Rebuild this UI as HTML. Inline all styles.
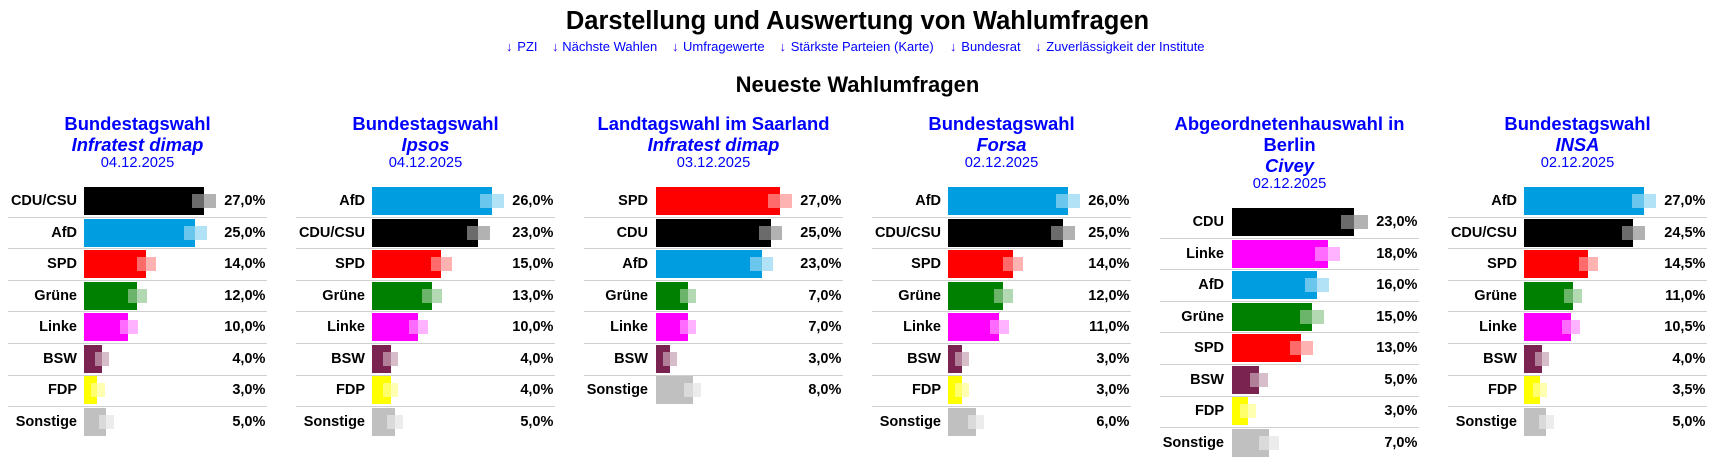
<!DOCTYPE html>
<html><head><meta charset="utf-8">
<style>
*{margin:0;padding:0;box-sizing:border-box}
html,body{width:1719px;height:465px;overflow:hidden;background:#fff}
body{position:relative;font-family:"Liberation Sans",Arial,sans-serif;color:#000}
.h1{position:absolute;left:0;top:5.5px;width:1715px;text-align:center;font-weight:bold;font-size:25.5px;line-height:30px;white-space:nowrap}
.h2{position:absolute;left:0;top:72px;width:1715px;text-align:center;font-weight:bold;font-size:22px;line-height:26px;white-space:nowrap}
.lk{position:absolute;top:38.8px;font-size:13px;line-height:16px;color:#0000ff;white-space:nowrap}
.ar{position:absolute;top:38.8px;font-size:13px;line-height:16px;color:#2a00ff;font-family:"Liberation Sans","DejaVu Sans",sans-serif}
.c{position:absolute;top:0;width:259px;height:465px}
.t{position:absolute;left:0;top:112.8px;width:259px;text-align:center;color:#0000ff;font-weight:bold;font-size:18.4px;line-height:21px;white-space:nowrap}
.t .d{font-weight:normal;font-size:14.7px;line-height:16px}
.r{position:absolute;left:0;width:259px;height:28px}
.l{position:absolute;left:0;top:0;text-align:right;font-weight:bold;font-size:14.5px;line-height:28px;white-space:nowrap}
.A .l{width:69px}
.B .l{width:64px}
.v{position:absolute;right:1.6px;top:0;font-weight:bold;font-size:14.5px;line-height:28px;white-space:nowrap}
.w{position:absolute;top:0;height:28px;width:0}
.A .w{left:76px}
.B .w{left:72px}
.g{position:absolute;top:7px;height:14px;opacity:.3}
.w b{position:absolute;left:0;top:0;height:28px;overflow:hidden;display:block}
.w b i{position:absolute;top:7px;height:14px;background:rgba(255,255,255,.42)}
.s{position:absolute;left:0;width:259px;height:1px;background:#d0d0d0}
</style></head><body>

<div class="h1">Darstellung und Auswertung von Wahlumfragen</div>

<span class="ar" style="left:506px">↓</span><span class="lk" style="left:517.3px">PZI</span>
<span class="ar" style="left:552px">↓</span><span class="lk" style="left:562.3px">Nächste Wahlen</span>
<span class="ar" style="left:672px">↓</span><span class="lk" style="left:683px">Umfragewerte</span>
<span class="ar" style="left:779.5px">↓</span><span class="lk" style="left:790.7px">Stärkste Parteien (Karte)</span>
<span class="ar" style="left:950px">↓</span><span class="lk" style="left:961.3px">Bundesrat</span>
<span class="ar" style="left:1035px">↓</span><span class="lk" style="left:1046.3px">Zuverlässigkeit der Institute</span>

<div class="h2">Neueste Wahlumfragen</div>

<!-- Chart 1 -->
<div class="c A" style="left:8px">
<div class="t">Bundestagswahl<br><i>Infratest dimap</i><div class="d">04.12.2025</div></div>
<div class="r" style="top:187px"><span class="l">CDU/CSU</span><div class="w"><i class="g" style="left:108px;width:24px;background:#000"></i><b style="width:120px;background:#000"><i style="left:108px;width:24px"></i></b></div><span class="v">27,0%</span></div>
<div class="s" style="top:216.6px"></div>
<div class="r" style="top:218.6px"><span class="l">AfD</span><div class="w"><i class="g" style="left:100px;width:23px;background:#009ee0"></i><b style="width:111.1px;background:#009ee0"><i style="left:100px;width:23px"></i></b></div><span class="v">25,0%</span></div>
<div class="s" style="top:248.2px"></div>
<div class="r" style="top:250.1px"><span class="l">SPD</span><div class="w"><i class="g" style="left:53px;width:19px;background:#ff0000"></i><b style="width:62.2px;background:#ff0000"><i style="left:53px;width:19px"></i></b></div><span class="v">14,0%</span></div>
<div class="s" style="top:279.7px"></div>
<div class="r" style="top:281.7px"><span class="l">Grüne</span><div class="w"><i class="g" style="left:44px;width:19px;background:#008000"></i><b style="width:53.3px;background:#008000"><i style="left:44px;width:19px"></i></b></div><span class="v">12,0%</span></div>
<div class="s" style="top:311.3px"></div>
<div class="r" style="top:313.3px"><span class="l">Linke</span><div class="w"><i class="g" style="left:36px;width:18px;background:#ff00ff"></i><b style="width:44.4px;background:#ff00ff"><i style="left:36px;width:18px"></i></b></div><span class="v">10,0%</span></div>
<div class="s" style="top:342.9px"></div>
<div class="r" style="top:344.9px"><span class="l">BSW</span><div class="w"><i class="g" style="left:11px;width:14px;background:#7a2350"></i><b style="width:17.8px;background:#7a2350"><i style="left:11px;width:14px"></i></b></div><span class="v">4,0%</span></div>
<div class="s" style="top:374.5px"></div>
<div class="r" style="top:376.4px"><span class="l">FDP</span><div class="w"><i class="g" style="left:7px;width:14px;background:#ffff00"></i><b style="width:13.3px;background:#ffff00"><i style="left:7px;width:14px"></i></b></div><span class="v">3,0%</span></div>
<div class="s" style="top:406px"></div>
<div class="r" style="top:408px"><span class="l">Sonstige</span><div class="w"><i class="g" style="left:15px;width:15px;background:#c0c0c0"></i><b style="width:22.2px;background:#c0c0c0"><i style="left:15px;width:15px"></i></b></div><span class="v">5,0%</span></div>
</div>

<!-- Chart 2 -->
<div class="c A" style="left:296px">
<div class="t">Bundestagswahl<br><i>Ipsos</i><div class="d">04.12.2025</div></div>
<div class="r" style="top:187px"><span class="l">AfD</span><div class="w"><i class="g" style="left:108px;width:24px;background:#009ee0"></i><b style="width:120px;background:#009ee0"><i style="left:108px;width:24px"></i></b></div><span class="v">26,0%</span></div>
<div class="s" style="top:216.6px"></div>
<div class="r" style="top:218.6px"><span class="l">CDU/CSU</span><div class="w"><i class="g" style="left:95px;width:23px;background:#000"></i><b style="width:106.2px;background:#000"><i style="left:95px;width:23px"></i></b></div><span class="v">23,0%</span></div>
<div class="s" style="top:248.2px"></div>
<div class="r" style="top:250.1px"><span class="l">SPD</span><div class="w"><i class="g" style="left:59px;width:21px;background:#ff0000"></i><b style="width:69.2px;background:#ff0000"><i style="left:59px;width:21px"></i></b></div><span class="v">15,0%</span></div>
<div class="s" style="top:279.7px"></div>
<div class="r" style="top:281.7px"><span class="l">Grüne</span><div class="w"><i class="g" style="left:50px;width:20px;background:#008000"></i><b style="width:60px;background:#008000"><i style="left:50px;width:20px"></i></b></div><span class="v">13,0%</span></div>
<div class="s" style="top:311.3px"></div>
<div class="r" style="top:313.3px"><span class="l">Linke</span><div class="w"><i class="g" style="left:37px;width:19px;background:#ff00ff"></i><b style="width:46.2px;background:#ff00ff"><i style="left:37px;width:19px"></i></b></div><span class="v">10,0%</span></div>
<div class="s" style="top:342.9px"></div>
<div class="r" style="top:344.9px"><span class="l">BSW</span><div class="w"><i class="g" style="left:11px;width:15px;background:#7a2350"></i><b style="width:18.5px;background:#7a2350"><i style="left:11px;width:15px"></i></b></div><span class="v">4,0%</span></div>
<div class="s" style="top:374.5px"></div>
<div class="r" style="top:376.4px"><span class="l">FDP</span><div class="w"><i class="g" style="left:11px;width:15px;background:#ffff00"></i><b style="width:18.5px;background:#ffff00"><i style="left:11px;width:15px"></i></b></div><span class="v">4,0%</span></div>
<div class="s" style="top:406px"></div>
<div class="r" style="top:408px"><span class="l">Sonstige</span><div class="w"><i class="g" style="left:15px;width:16px;background:#c0c0c0"></i><b style="width:23.1px;background:#c0c0c0"><i style="left:15px;width:16px"></i></b></div><span class="v">5,0%</span></div>
</div>

<!-- Chart 3 -->
<div class="c B" style="left:584px">
<div class="t">Landtagswahl im Saarland<br><i>Infratest dimap</i><div class="d">03.12.2025</div></div>
<div class="r" style="top:187px"><span class="l">SPD</span><div class="w"><i class="g" style="left:112px;width:24px;background:#ff0000"></i><b style="width:124px;background:#ff0000"><i style="left:112px;width:24px"></i></b></div><span class="v">27,0%</span></div>
<div class="s" style="top:216.6px"></div>
<div class="r" style="top:218.6px"><span class="l">CDU</span><div class="w"><i class="g" style="left:103px;width:23px;background:#000"></i><b style="width:114.8px;background:#000"><i style="left:103px;width:23px"></i></b></div><span class="v">25,0%</span></div>
<div class="s" style="top:248.2px"></div>
<div class="r" style="top:250.1px"><span class="l">AfD</span><div class="w"><i class="g" style="left:94px;width:23px;background:#009ee0"></i><b style="width:105.6px;background:#009ee0"><i style="left:94px;width:23px"></i></b></div><span class="v">23,0%</span></div>
<div class="s" style="top:279.7px"></div>
<div class="r" style="top:281.7px"><span class="l">Grüne</span><div class="w"><i class="g" style="left:24px;width:16px;background:#008000"></i><b style="width:32.2px;background:#008000"><i style="left:24px;width:16px"></i></b></div><span class="v">7,0%</span></div>
<div class="s" style="top:311.3px"></div>
<div class="r" style="top:313.3px"><span class="l">Linke</span><div class="w"><i class="g" style="left:24px;width:16px;background:#ff00ff"></i><b style="width:32.2px;background:#ff00ff"><i style="left:24px;width:16px"></i></b></div><span class="v">7,0%</span></div>
<div class="s" style="top:342.9px"></div>
<div class="r" style="top:344.9px"><span class="l">BSW</span><div class="w"><i class="g" style="left:7px;width:14px;background:#7a2350"></i><b style="width:13.8px;background:#7a2350"><i style="left:7px;width:14px"></i></b></div><span class="v">3,0%</span></div>
<div class="s" style="top:374.5px"></div>
<div class="r" style="top:376.4px"><span class="l">Sonstige</span><div class="w"><i class="g" style="left:28px;width:17px;background:#c0c0c0"></i><b style="width:36.7px;background:#c0c0c0"><i style="left:28px;width:17px"></i></b></div><span class="v">8,0%</span></div>
</div>

<!-- Chart 4 -->
<div class="c A" style="left:872px">
<div class="t">Bundestagswahl<br><i>Forsa</i><div class="d">02.12.2025</div></div>
<div class="r" style="top:187px"><span class="l">AfD</span><div class="w"><i class="g" style="left:108px;width:24px;background:#009ee0"></i><b style="width:120px;background:#009ee0"><i style="left:108px;width:24px"></i></b></div><span class="v">26,0%</span></div>
<div class="s" style="top:216.6px"></div>
<div class="r" style="top:218.6px"><span class="l">CDU/CSU</span><div class="w"><i class="g" style="left:103px;width:24px;background:#000"></i><b style="width:115.4px;background:#000"><i style="left:103px;width:24px"></i></b></div><span class="v">25,0%</span></div>
<div class="s" style="top:248.2px"></div>
<div class="r" style="top:250.1px"><span class="l">SPD</span><div class="w"><i class="g" style="left:55px;width:20px;background:#ff0000"></i><b style="width:64.6px;background:#ff0000"><i style="left:55px;width:20px"></i></b></div><span class="v">14,0%</span></div>
<div class="s" style="top:279.7px"></div>
<div class="r" style="top:281.7px"><span class="l">Grüne</span><div class="w"><i class="g" style="left:46px;width:19px;background:#008000"></i><b style="width:55.4px;background:#008000"><i style="left:46px;width:19px"></i></b></div><span class="v">12,0%</span></div>
<div class="s" style="top:311.3px"></div>
<div class="r" style="top:313.3px"><span class="l">Linke</span><div class="w"><i class="g" style="left:42px;width:19px;background:#ff00ff"></i><b style="width:50.8px;background:#ff00ff"><i style="left:42px;width:19px"></i></b></div><span class="v">11,0%</span></div>
<div class="s" style="top:342.9px"></div>
<div class="r" style="top:344.9px"><span class="l">BSW</span><div class="w"><i class="g" style="left:7px;width:14px;background:#7a2350"></i><b style="width:13.8px;background:#7a2350"><i style="left:7px;width:14px"></i></b></div><span class="v">3,0%</span></div>
<div class="s" style="top:374.5px"></div>
<div class="r" style="top:376.4px"><span class="l">FDP</span><div class="w"><i class="g" style="left:7px;width:14px;background:#ffff00"></i><b style="width:13.8px;background:#ffff00"><i style="left:7px;width:14px"></i></b></div><span class="v">3,0%</span></div>
<div class="s" style="top:406px"></div>
<div class="r" style="top:408px"><span class="l">Sonstige</span><div class="w"><i class="g" style="left:20px;width:16px;background:#c0c0c0"></i><b style="width:27.7px;background:#c0c0c0"><i style="left:20px;width:16px"></i></b></div><span class="v">6,0%</span></div>
</div>

<!-- Chart 5 -->
<div class="c B" style="left:1160px">
<div class="t">Abgeordnetenhauswahl in<br>Berlin<br><i>Civey</i><div class="d">02.12.2025</div></div>
<div class="r" style="top:208px"><span class="l">CDU</span><div class="w"><i class="g" style="left:109px;width:27px;background:#000"></i><b style="width:122px;background:#000"><i style="left:109px;width:27px"></i></b></div><span class="v">23,0%</span></div>
<div class="s" style="top:237.6px"></div>
<div class="r" style="top:239.6px"><span class="l">Linke</span><div class="w"><i class="g" style="left:83px;width:25px;background:#ff00ff"></i><b style="width:95.5px;background:#ff00ff"><i style="left:83px;width:25px"></i></b></div><span class="v">18,0%</span></div>
<div class="s" style="top:269.2px"></div>
<div class="r" style="top:271.1px"><span class="l">AfD</span><div class="w"><i class="g" style="left:73px;width:24px;background:#009ee0"></i><b style="width:84.9px;background:#009ee0"><i style="left:73px;width:24px"></i></b></div><span class="v">16,0%</span></div>
<div class="s" style="top:300.7px"></div>
<div class="r" style="top:302.7px"><span class="l">Grüne</span><div class="w"><i class="g" style="left:68px;width:24px;background:#008000"></i><b style="width:79.6px;background:#008000"><i style="left:68px;width:24px"></i></b></div><span class="v">15,0%</span></div>
<div class="s" style="top:332.3px"></div>
<div class="r" style="top:334.3px"><span class="l">SPD</span><div class="w"><i class="g" style="left:58px;width:23px;background:#ff0000"></i><b style="width:69px;background:#ff0000"><i style="left:58px;width:23px"></i></b></div><span class="v">13,0%</span></div>
<div class="s" style="top:363.9px"></div>
<div class="r" style="top:365.9px"><span class="l">BSW</span><div class="w"><i class="g" style="left:18px;width:18px;background:#7a2350"></i><b style="width:26.5px;background:#7a2350"><i style="left:18px;width:18px"></i></b></div><span class="v">5,0%</span></div>
<div class="s" style="top:395.5px"></div>
<div class="r" style="top:397.4px"><span class="l">FDP</span><div class="w"><i class="g" style="left:8px;width:16px;background:#ffff00"></i><b style="width:15.9px;background:#ffff00"><i style="left:8px;width:16px"></i></b></div><span class="v">3,0%</span></div>
<div class="s" style="top:427px"></div>
<div class="r" style="top:429px"><span class="l">Sonstige</span><div class="w"><i class="g" style="left:27px;width:20px;background:#c0c0c0"></i><b style="width:37.1px;background:#c0c0c0"><i style="left:27px;width:20px"></i></b></div><span class="v">7,0%</span></div>
</div>

<!-- Chart 6 -->
<div class="c A" style="left:1448px">
<div class="t">Bundestagswahl<br><i>INSA</i><div class="d">02.12.2025</div></div>
<div class="r" style="top:187px"><span class="l">AfD</span><div class="w"><i class="g" style="left:108px;width:24px;background:#009ee0"></i><b style="width:120px;background:#009ee0"><i style="left:108px;width:24px"></i></b></div><span class="v">27,0%</span></div>
<div class="s" style="top:216.6px"></div>
<div class="r" style="top:218.6px"><span class="l">CDU/CSU</span><div class="w"><i class="g" style="left:98px;width:23px;background:#000"></i><b style="width:108.9px;background:#000"><i style="left:98px;width:23px"></i></b></div><span class="v">24,5%</span></div>
<div class="s" style="top:248.2px"></div>
<div class="r" style="top:250.1px"><span class="l">SPD</span><div class="w"><i class="g" style="left:55px;width:19px;background:#ff0000"></i><b style="width:64.4px;background:#ff0000"><i style="left:55px;width:19px"></i></b></div><span class="v">14,5%</span></div>
<div class="s" style="top:279.7px"></div>
<div class="r" style="top:281.7px"><span class="l">Grüne</span><div class="w"><i class="g" style="left:40px;width:18px;background:#008000"></i><b style="width:48.9px;background:#008000"><i style="left:40px;width:18px"></i></b></div><span class="v">11,0%</span></div>
<div class="s" style="top:311.3px"></div>
<div class="r" style="top:313.3px"><span class="l">Linke</span><div class="w"><i class="g" style="left:38px;width:18px;background:#ff00ff"></i><b style="width:46.7px;background:#ff00ff"><i style="left:38px;width:18px"></i></b></div><span class="v">10,5%</span></div>
<div class="s" style="top:342.9px"></div>
<div class="r" style="top:344.9px"><span class="l">BSW</span><div class="w"><i class="g" style="left:11px;width:14px;background:#7a2350"></i><b style="width:17.8px;background:#7a2350"><i style="left:11px;width:14px"></i></b></div><span class="v">4,0%</span></div>
<div class="s" style="top:374.5px"></div>
<div class="r" style="top:376.4px"><span class="l">FDP</span><div class="w"><i class="g" style="left:9px;width:14px;background:#ffff00"></i><b style="width:15.6px;background:#ffff00"><i style="left:9px;width:14px"></i></b></div><span class="v">3,5%</span></div>
<div class="s" style="top:406px"></div>
<div class="r" style="top:408px"><span class="l">Sonstige</span><div class="w"><i class="g" style="left:15px;width:15px;background:#c0c0c0"></i><b style="width:22.2px;background:#c0c0c0"><i style="left:15px;width:15px"></i></b></div><span class="v">5,0%</span></div>
</div>

</body></html>
